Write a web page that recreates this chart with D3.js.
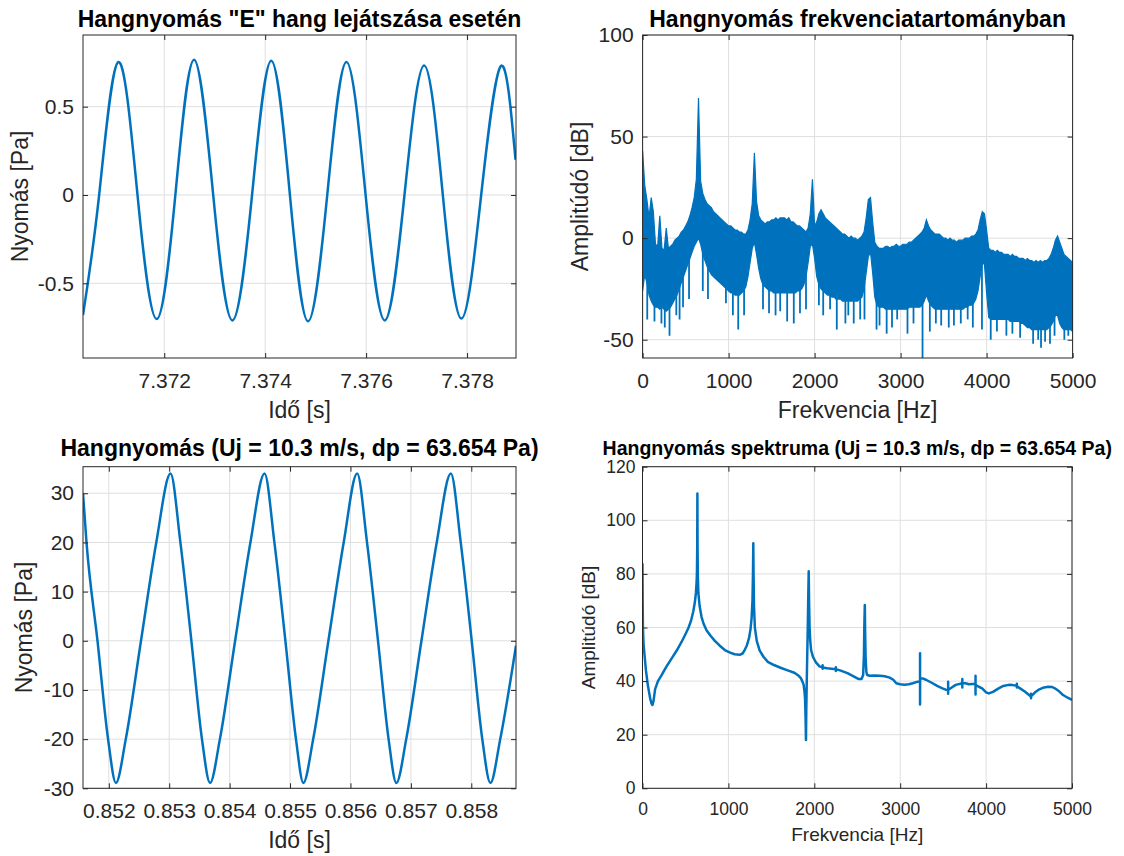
<!DOCTYPE html>
<html><head><meta charset="utf-8">
<script src="https://cdn.jsdelivr.net/npm/d3@7"></script>
<style>body{margin:0;background:#fff}svg{display:block}text{font-family:"Liberation Sans",Arial,Helvetica,sans-serif}</style>
</head><body><svg id="c" width="1124" height="856"></svg>
<script>
// ---------- Panel 1: time signal ("E" note) ----------
const wave1T = [7.37039, 7.37071, 7.37109, 7.37147, 7.37185, 7.37222, 7.37259, 7.37297, 7.37335, 7.37374, 7.37412, 7.37449, 7.37485, 7.37523, 7.37561, 7.37599, 7.37637, 7.37676, 7.37715, 7.37752, 7.37789, 7.37828, 7.37867, 7.37896];
const wave1V = [-0.68, 0, 0.753, 0, -0.702, 0, 0.766, 0, -0.710, 0, 0.760, 0, -0.715, 0, 0.753, 0, -0.710, 0, 0.733, 0, -0.700, 0, 0.730, 0.20];
const p1XTicks = [7.372, 7.374, 7.376, 7.378];
const p1XLabels = ["7.372", "7.374", "7.376", "7.378"];
const p1YTicks = [-0.5, 0, 0.5];
const p1YLabels = ["-0.5", "0", "0.5"];

// ---------- Panel 2: noisy spectrum (upper / lower envelope every 25 Hz) ----------
const bandStepHz = 25;
const bandHi = [43,26,19,10,20,13,-3,-4,11,-5,-6,5,-5,-4,-3,-1,0,1,3,4,6,8,11,15,20,29,69,28,22,19,17,16,15,13,12,11,10,9,8,7,6,6,5,4,4,3,3,2,2,4,9,17,42,18,11,9,8,7,8,8,9,9,10,9,10,10,10,9,10,8,8,7,6,6,5,4,3,5,12,29,6,8,12,14,12,10,9,8,7,6,5,4,3,2,2,1,0,1,0,0,-1,0,1,3,10,19,20,8,-2,-4,-5,-5,-5,-4,-4,-5,-4,-4,-3,-4,-4,-3,-3,-3,-2,-2,-1,0,1,2,3,5,9,6,4,3,2,2,2,1,0,0,-1,0,-1,-1,-2,-1,-1,-1,0,0,0,1,1,2,4,9,13,12,4,-5,-6,-6,-7,-6,-7,-7,-8,-8,-8,-9,-8,-9,-9,-10,-10,-10,-11,-10,-11,-11,-12,-11,-12,-11,-12,-11,-11,-10,-8,-5,-1,1,-2,-5,-8,-9,-10,-11,-12];
const bandLo = [-26,-18,-22,-28,-31,-33,-34,-34,-35,-34,-35,-36,-35,-34,-32,-30,-28,-25,-22,-19,-16,-13,-10,-7,-4,-2,0,-3,-8,-11,-14,-16,-18,-19,-20,-21,-22,-23,-24,-25,-26,-27,-27,-28,-28,-28,-27,-26,-24,-19,-12,-5,-2,-8,-15,-20,-23,-24,-25,-26,-26,-27,-27,-27,-27,-27,-27,-27,-27,-27,-27,-27,-26,-26,-25,-23,-19,-12,-4,-3,-10,-19,-23,-25,-26,-27,-28,-28,-29,-29,-30,-30,-30,-31,-31,-31,-31,-31,-31,-31,-31,-30,-29,-25,-17,-9,-7,-17,-29,-33,-34,-34,-34,-35,-35,-35,-35,-35,-35,-35,-35,-35,-35,-35,-34,-34,-34,-34,-34,-34,-33,-31,-28,-31,-33,-34,-35,-35,-35,-35,-35,-35,-35,-35,-35,-35,-35,-35,-35,-35,-34,-34,-33,-33,-32,-30,-26,-19,-12,-13,-27,-39,-40,-40,-40,-40,-40,-40,-40,-40,-40,-41,-41,-41,-41,-41,-42,-42,-43,-44,-44,-45,-45,-45,-45,-45,-45,-45,-45,-44,-43,-41,-38,-38,-42,-44,-45,-45,-45,-45,-46];
const dipHz = [54,138,219,258,313,392,430,470,540,700,760,969,1050,1112,1180,1400,1470,1546,1600,1681,1758,1830,1900,2050,2100,2180,2258,2358,2392,2455,2530,2580,2720,2755,2838,2900,2960,3080,3150,3255,3340,3410,3472,3560,3620,3700,3780,3840,3946,4048,4120,4230,4300,4390,4541,4600,4633,4680,4737,4790,4904,4950,4988];
const dipDb = [-40,-41,-42,-44,-48,-38,-40,-34,-30,-26,-30,-32,-38,-45,-38,-35,-37,-38,-36,-41,-42,-37,-35,-33,-38,-35,-45,-42,-38,-42,-40,-40,-45,-43,-47,-44,-40,-47,-42,-62,-46,-42,-43,-44,-43,-42,-40,-44,-45,-50,-46,-48,-47,-49,-52,-50,-54,-51,-52,-48,-50,-48,-45];
const p2XTicks = [0, 1000, 2000, 3000, 4000, 5000];
const p2XLabels = ["0", "1000", "2000", "3000", "4000", "5000"];
const p2YTicks = [-50, 0, 50, 100];
const p2YLabels = ["-50", "0", "50", "100"];

// ---------- Panel 3: time signal (Uj = 10.3 m/s) ----------
const wave3T = [0.851573,0.851631,0.851813,0.851988,0.852118,0.852281,0.852533,0.852786,0.853022,0.853185,0.853367,0.853542,0.853676,0.853839,0.854091,0.854344,0.854578,0.854741,0.854923,0.855098,0.855220,0.855383,0.855635,0.855888,0.856111,0.856274,0.856456,0.856631,0.856760,0.856923,0.857175,0.857428,0.857662,0.857825,0.858007,0.858182,0.858316,0.858479,0.858740];
const wave3V = [30.0,20,0,-20,-28.9,-20,0,20,34.0,20,0,-20,-28.9,-20,0,20,34.0,20,0,-20,-28.9,-20,0,20,34.0,20,0,-20,-28.9,-20,0,20,34.0,20,0,-20,-28.9,-20,-1.0];
const p3XTicks = [0.852, 0.853, 0.854, 0.855, 0.856, 0.857, 0.858];
const p3XLabels = ["0.852", "0.853", "0.854", "0.855", "0.856", "0.857", "0.858"];
const p3YTicks = [-30, -20, -10, 0, 10, 20, 30];
const p3YLabels = ["-30", "-20", "-10", "0", "10", "20", "30"];

// ---------- Panel 4: spectrum (Uj = 10.3 m/s) ----------
const spec4F = [0,2,5,12,23,40,62,89,105,116,128,147,180,224,280,340,400,456,500,533,565,591,610,622,630,634,637,639,641,644,650,665,687,710,745,790,842,900,958,1020,1073,1131,1165,1189,1215,1240,1258,1270,1280,1286,1290,1293,1298,1308,1330,1363,1410,1459,1530,1614,1690,1768,1810,1846,1866,1876,1886,1892,1898,1903,1907,1915,1924,1930,1935,1939,1945,1953,1963,1985,2019,2060,2097,2097,2097,2097,2150,2200,2251,2251,2251,2251,2300,2386,2463,2512,2550,2569,2578,2582,2588,2592,2598,2606,2615,2646,2700,2762,2820,2877,2920,2954,3000,3050,3100,3146,3204,3231,3231,3231,3232,3262,3300,3377,3430,3492,3530,3558,3558,3558,3558,3600,3646,3700,3723,3723,3723,3723,3760,3800,3840,3877,3877,3877,3877,3920,3954,4000,4031,4080,4146,4200,4262,4310,4358,4358,4358,4358,4400,4454,4500,4523,4523,4523,4523,4570,4608,4660,4723,4770,4800,4850,4896,4950,5000];
const spec4V = [84,70,60,54,50,44,38.5,33.6,31.6,31.1,32.5,37,40,42.3,45.5,48.5,51.5,54.7,57.5,59.7,62.5,66,69.5,73,77,81,90,110,90,80,73,68,64,61.5,59,57,55,53.2,51.6,50.6,50,49.8,50.3,51.6,53.3,56,59.5,63.5,70,80,91.4,80,68,60,55,51.5,49,47.2,46,44.9,44,43.1,42.2,41,39.5,38.6,36,33.6,27,18,30,45,60,72,81,70,60,55,51.5,49,47,45.5,45.1,45.9,44.6,45.1,44.8,44.6,44.4,45.2,43.8,44.4,44,43,41.7,40.8,40.8,42.3,50,60,68.4,58,48,43.5,42.3,42,42.1,42,41.8,41.3,40.5,39.2,38.8,38.6,38.8,39.2,39.8,39.8,50.4,31.3,41,41,40.5,39.2,38.2,37.3,36.8,36.7,39.8,35.3,36.7,37.6,38.6,39,39.2,40.8,37.6,39.2,39.2,38.8,38.9,38.9,42,35,38.6,37.8,37.3,35.8,35.4,36,37.3,38.2,38.6,38.5,38.3,39,37.6,38.1,37.2,36,34.8,34.2,35.3,33.6,34.3,35.8,36.7,37.5,37.9,37.8,37.3,36.2,34.8,33.8,33];
const p4XTicks = [0, 1000, 2000, 3000, 4000, 5000];
const p4XLabels = ["0", "1000", "2000", "3000", "4000", "5000"];
const p4YTicks = [0, 20, 40, 60, 80, 100, 120];
const p4YLabels = ["0", "20", "40", "60", "80", "100", "120"];

// ---------- drawing ----------
const BLUE = "#0072BD", AX = "#262626", GRID = "#dfdfdf";
const svg = d3.select("#c");

function panel(c) {
  const g = svg.append("g");
  const x = d3.scaleLinear().domain(c.xd).range([c.l, c.r]);
  const y = d3.scaleLinear().domain(c.yd).range([c.b, c.t]);
  g.append("g").selectAll("line").data(c.xt).join("line")
    .attr("x1", d => x(d)).attr("x2", d => x(d)).attr("y1", c.t).attr("y2", c.b)
    .attr("stroke", GRID).attr("stroke-width", 1);
  g.append("g").selectAll("line").data(c.yt).join("line")
    .attr("y1", d => y(d)).attr("y2", d => y(d)).attr("x1", c.l).attr("x2", c.r)
    .attr("stroke", GRID).attr("stroke-width", 1);
  svg.append("clipPath").attr("id", "clip" + c.id).append("rect")
    .attr("x", c.l).attr("y", c.t).attr("width", c.r - c.l).attr("height", c.b - c.t);
  const plot = g.append("g").attr("clip-path", `url(#clip${c.id})`);
  c.draw(plot, x, y);
  const fmt = (vals, labs) => d => labs[vals.indexOf(d)];
  const style = sel => {
    sel.select(".domain").remove();
    sel.selectAll(".tick line").attr("stroke", AX);
    sel.selectAll(".tick text").attr("fill", AX).attr("font-size", c.tfs)
      .attr("font-family", '"Liberation Sans",Arial,sans-serif');
  };
  g.append("g").attr("transform", `translate(0,${c.b})`)
    .call(d3.axisBottom(x).tickValues(c.xt).tickFormat(fmt(c.xt, c.xl)).tickSizeInner(-5).tickSizeOuter(0).tickPadding(c.xpad)).call(style);
  g.append("g").attr("transform", `translate(0,${c.t})`)
    .call(d3.axisTop(x).tickValues(c.xt).tickFormat(() => "").tickSizeInner(-5).tickSizeOuter(0)).call(style);
  g.append("g").attr("transform", `translate(${c.l},0)`)
    .call(d3.axisLeft(y).tickValues(c.yt).tickFormat(fmt(c.yt, c.yl)).tickSizeInner(-5).tickSizeOuter(0).tickPadding(c.ypad)).call(style);
  g.append("g").attr("transform", `translate(${c.r},0)`)
    .call(d3.axisRight(y).tickValues(c.yt).tickFormat(() => "").tickSizeInner(-5).tickSizeOuter(0)).call(style);
  g.append("rect").attr("x", c.l).attr("y", c.t).attr("width", c.r - c.l).attr("height", c.b - c.t)
    .attr("fill", "none").attr("stroke", AX).attr("stroke-width", 1);
  g.append("text").attr("x", (c.l + c.r) / 2).attr("y", c.titleY).attr("text-anchor", "middle")
    .attr("font-weight", "bold").attr("font-size", c.tifs).attr("fill", "#000").text(c.title);
  g.append("text").attr("x", (c.l + c.r) / 2).attr("y", c.xlabY).attr("text-anchor", "middle")
    .attr("font-size", c.lfs).attr("fill", AX).text(c.xlab);
  g.append("text").attr("transform", `translate(${c.ylabX},${(c.t + c.b) / 2}) rotate(-90)`)
    .attr("text-anchor", "middle").attr("font-size", c.lfs).attr("fill", AX).text(c.ylab);
}

panel({
  id: 1, l: 83, r: 516, t: 35, b: 358, xd: [7.37039, 7.37897], yd: [-0.923, 0.906],
  xt: p1XTicks, xl: p1XLabels, yt: p1YTicks, yl: p1YLabels,
  tfs: 21, lfs: 23, tifs: 23, xpad: 15, ypad: 9,
  title: 'Hangnyomás "E" hang lejátszása esetén', titleY: 27,
  xlab: "Idő [s]", xlabY: 418, ylab: "Nyomás [Pa]", ylabX: 28,
  draw: (p, x, y) => {
    const pts = wave1T.map((t, i) => [t, wave1V[i]]);
    p.append("path").datum(pts).attr("fill", "none").attr("stroke", BLUE).attr("stroke-width", 2.5)
      .attr("d", d3.line().x(d => x(d[0])).y(d => y(d[1])).curve(d3.curveNatural));
  }
});

panel({
  id: 2, l: 642.6, r: 1072.6, t: 35, b: 358, xd: [0, 5000], yd: [-59, 100],
  xt: p2XTicks, xl: p2XLabels, yt: p2YTicks, yl: p2YLabels,
  tfs: 21, lfs: 23, tifs: 23, xpad: 15, ypad: 9,
  title: "Hangnyomás frekvenciatartományban", titleY: 27,
  xlab: "Frekvencia [Hz]", xlabY: 418, ylab: "Amplitúdó [dB]", ylabX: 588,
  draw: (p, x, y) => {
    const freqs = bandHi.map((_, i) => i * bandStepHz);
    const rows = freqs.map((f, i) => ({ f, hi: bandHi[i], lo: bandLo[i] }));
    p.append("path").datum(rows).attr("fill", BLUE).attr("stroke", BLUE).attr("stroke-width", 1.2)
      .attr("d", d3.area().x(d => x(d.f)).y0(d => y(d.lo)).y1(d => y(d.hi)));
    const loAt = f => {
      const i = Math.min(Math.floor(f / bandStepHz), bandLo.length - 2);
      const u = (f - i * bandStepHz) / bandStepHz;
      return bandLo[i] * (1 - u) + bandLo[i + 1] * u;
    };
    p.append("g").selectAll("line").data(dipHz.map((f, i) => ({ f, v: dipDb[i] }))).join("line")
      .attr("x1", d => x(d.f)).attr("x2", d => x(d.f))
      .attr("y1", d => y(loAt(d.f) + 2)).attr("y2", d => y(d.v))
      .attr("stroke", BLUE).attr("stroke-width", 1.8);
  }
});

panel({
  id: 3, l: 83, r: 516, t: 466.7, b: 788.3, xd: [0.851573, 0.85874], yd: [-30, 35.4],
  xt: p3XTicks, xl: p3XLabels, yt: p3YTicks, yl: p3YLabels,
  tfs: 21, lfs: 23, tifs: 23, xpad: 15, ypad: 9,
  title: "Hangnyomás (Uj = 10.3 m/s, dp = 63.654 Pa)", titleY: 456,
  xlab: "Idő [s]", xlabY: 848, ylab: "Nyomás [Pa]", ylabX: 32,
  draw: (p, x, y) => {
    const pts = wave3T.map((t, i) => [t, wave3V[i]]);
    p.append("path").datum(pts).attr("fill", "none").attr("stroke", BLUE).attr("stroke-width", 2.5)
      .attr("d", d3.line().x(d => x(d[0])).y(d => y(d[1])).curve(d3.curveMonotoneX));
  }
});

panel({
  id: 4, l: 642.5, r: 1072, t: 466.7, b: 788.3, xd: [0, 5000], yd: [0, 120],
  xt: p4XTicks, xl: p4XLabels, yt: p4YTicks, yl: p4YLabels,
  tfs: 17.5, lfs: 19, tifs: 19.5, xpad: 14, ypad: 7,
  title: "Hangnyomás spektruma (Uj = 10.3 m/s, dp = 63.654 Pa)", titleY: 455,
  xlab: "Frekvencia [Hz]", xlabY: 841, ylab: "Amplitúdó [dB]", ylabX: 595,
  draw: (p, x, y) => {
    const pts = spec4F.map((f, i) => [f, spec4V[i]]);
    p.append("path").datum(pts).attr("fill", "none").attr("stroke", BLUE).attr("stroke-width", 2.5)
      .attr("stroke-linejoin", "round")
      .attr("d", d3.line().x(d => x(d[0])).y(d => y(d[1])));
  }
});
</script></body></html>
